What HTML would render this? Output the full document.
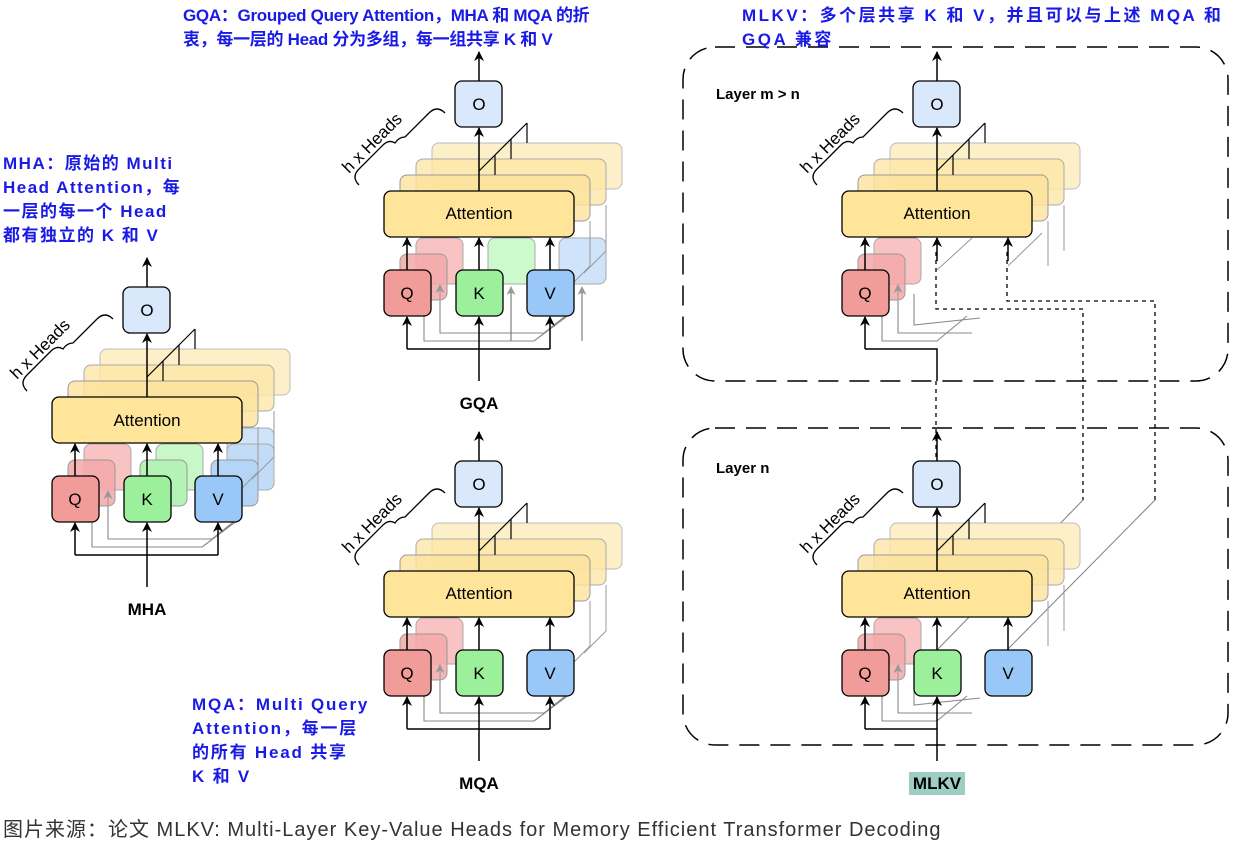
<!DOCTYPE html>
<html><head><meta charset="utf-8"><style>
html,body{margin:0;padding:0;background:#fff;}
body{width:1247px;height:841px;overflow:hidden;position:relative;font-family:"Liberation Sans","Noto Sans CJK SC",sans-serif;}
.note{position:absolute;color:#1a1ae6;font-weight:bold;font-size:17px;line-height:24px;letter-spacing:-0.3px;white-space:nowrap;}
.cap{position:absolute;left:3px;top:813px;font-size:20px;letter-spacing:1px;color:#333;white-space:nowrap;}
svg{position:absolute;left:0;top:0;}
svg text{font-family:"Liberation Sans",sans-serif;}
</style></head><body>
<svg width="1247" height="841" viewBox="0 0 1247 841">
<defs>
<marker id="ar" markerWidth="10" markerHeight="10" refX="9" refY="5" orient="auto" markerUnits="userSpaceOnUse"><path d="M0,0 L10,5 L0,10 L3,5 z" fill="#000"/></marker>
<marker id="ag" markerWidth="9" markerHeight="9" refX="8" refY="4.5" orient="auto" markerUnits="userSpaceOnUse"><path d="M0,0 L9,4.5 L0,9 L2.5,4.5 z" fill="#999"/></marker>
<g id="back">
<rect x="48" y="-48" width="190" height="46" rx="7" fill="#fdf0c8" stroke="#bbb"/>
<rect x="32" y="-32" width="190" height="46" rx="7" fill="#fce7a8" fill-opacity=".8" stroke="#aaa"/>
<rect x="16" y="-16" width="190" height="46" rx="7" fill="#fbe29c" fill-opacity=".8" stroke="#999"/>
</g>
<g id="top">
<rect x="71" y="-110" width="47" height="46" rx="7" fill="#dae8fc" stroke="#000" stroke-width="1.3"/>
<line x1="95" y1="0" x2="95" y2="-63" stroke="#000" stroke-width="1.5" marker-end="url(#ar)"/>
<line x1="95" y1="-110" x2="95" y2="-139" stroke="#000" stroke-width="1.5" marker-end="url(#ar)"/>
<path d="M95,-20 L143,-68 M111,-16 L111,-36 M127,-32 L127,-52 M143,-48 L143,-68" stroke="#000" stroke-width="1.2" fill="none"/>
<path d="M-25,-6 q-8,-8 0,-16 l24,-24 q6,-6 12,-2 q4,-6 10,-6 l24,-24 q8,-8 16,0" stroke="#000" stroke-width="1.3" fill="none"/>
<text x="-8" y="-44" font-size="17" transform="rotate(-45 -8 -44)" text-anchor="middle">h x Heads</text>
</g>
<g id="attn">
<rect x="0" y="0" width="190" height="46" rx="7" fill="#ffe599" stroke="#000" stroke-width="1.3"/>
</g>
<g id="qback">
<rect x="32" y="47" width="47" height="46" rx="7" fill="#f8b4b4" fill-opacity=".8" stroke="#aaa"/>
<rect x="16" y="63" width="47" height="46" rx="7" fill="#f5a8a8" fill-opacity=".85" stroke="#999"/>
<line x1="40" y1="125" x2="40" y2="110" stroke="#999" marker-end="url(#ag)"/>
<line x1="56" y1="125" x2="56" y2="94" stroke="#999" marker-end="url(#ag)"/>
</g>
<g id="gray">
<path d="M40,125 L40,150 L150,150 M56,110 L56,142 L160,142 M150,150 L190,120 M160,142 L190,118" stroke="#888" stroke-width="1.1" fill="none"/>
<path d="M206,30 L206,75 M222,14 L222,60 M206,75 L186,95 M222,60 L200,82" stroke="#999" fill="none"/>
</g>
<g id="qkv">
<line x1="23" y1="79" x2="23" y2="47" stroke="#000" stroke-width="1.5" marker-end="url(#ar)"/>
<line x1="95" y1="79" x2="95" y2="47" stroke="#000" stroke-width="1.5" marker-end="url(#ar)"/>
<line x1="166" y1="79" x2="166" y2="47" stroke="#000" stroke-width="1.5" marker-end="url(#ar)"/>
<rect x="0" y="79" width="47" height="46" rx="7" fill="#f19c99" stroke="#000" stroke-width="1.3"/>
<rect x="72" y="79" width="47" height="46" rx="7" fill="#9cf09c" stroke="#000" stroke-width="1.3"/>
<rect x="143" y="79" width="47" height="46" rx="7" fill="#99c8f8" stroke="#000" stroke-width="1.3"/>
<path d="M95,190 L95,158 M23,158 L166,158" stroke="#000" stroke-width="1.5" fill="none"/>
<line x1="23" y1="158" x2="23" y2="126" stroke="#000" stroke-width="1.5" marker-end="url(#ar)"/>
<line x1="95" y1="158" x2="95" y2="126" stroke="#000" stroke-width="1.5" marker-end="url(#ar)"/>
<line x1="166" y1="158" x2="166" y2="126" stroke="#000" stroke-width="1.5" marker-end="url(#ar)"/>
</g>
</defs>

<!-- MHA -->
<g transform="translate(52,397)">
<use href="#back"/>
<rect x="104" y="47" width="47" height="46" rx="7" fill="#c8f7c8" stroke="#aaa"/><rect x="88" y="63" width="47" height="46" rx="7" fill="#b5f2b5" stroke="#999"/>
<rect x="175" y="31" width="47" height="46" rx="7" fill="#cfe4fb" stroke="#aaa"/><rect x="175" y="47" width="47" height="46" rx="7" fill="#c2dcf8" stroke="#aaa"/><rect x="159" y="63" width="47" height="46" rx="7" fill="#b5d5f7" stroke="#999"/>
<use href="#qback"/>
<use href="#gray"/>
<use href="#attn"/><use href="#top"/><use href="#qkv"/>
<text x="95" y="29" font-size="17" text-anchor="middle">Attention</text>
<text x="95" y="-81" font-size="17" text-anchor="middle">O</text>
<text x="23" y="108" font-size="17" text-anchor="middle">Q</text>
<text x="95" y="108" font-size="17" text-anchor="middle">K</text>
<text x="166" y="108" font-size="17" text-anchor="middle">V</text>
<text x="95" y="218" font-size="17" font-weight="bold" text-anchor="middle">MHA</text>
</g>

<!-- GQA -->
<g transform="translate(384,191)">
<use href="#back"/>
<rect x="104" y="47" width="47" height="46" rx="7" fill="#cdfacd" stroke="#aaa"/>
<rect x="175" y="47" width="47" height="46" rx="7" fill="#cfe4fb" stroke="#aaa"/>
<use href="#qback"/>
<use href="#gray"/>
<line x1="127" y1="150" x2="127" y2="96" stroke="#666" marker-end="url(#ag)"/>
<line x1="198" y1="150" x2="198" y2="96" stroke="#666" marker-end="url(#ag)"/>
<use href="#attn"/><use href="#top"/><use href="#qkv"/>
<text x="95" y="28" font-size="17" text-anchor="middle">Attention</text>
<text x="95" y="-81" font-size="17" text-anchor="middle">O</text>
<text x="23" y="108" font-size="17" text-anchor="middle">Q</text>
<text x="95" y="108" font-size="17" text-anchor="middle">K</text>
<text x="166" y="108" font-size="17" text-anchor="middle">V</text>
<text x="95" y="218" font-size="17" font-weight="bold" text-anchor="middle">GQA</text>
</g>

<!-- MQA -->
<g transform="translate(384,571)">
<use href="#back"/>
<use href="#qback"/>
<use href="#gray"/>
<use href="#attn"/><use href="#top"/><use href="#qkv"/>
<text x="95" y="28" font-size="17" text-anchor="middle">Attention</text>
<text x="95" y="-81" font-size="17" text-anchor="middle">O</text>
<text x="23" y="108" font-size="17" text-anchor="middle">Q</text>
<text x="95" y="108" font-size="17" text-anchor="middle">K</text>
<text x="166" y="108" font-size="17" text-anchor="middle">V</text>
<text x="95" y="218" font-size="17" font-weight="bold" text-anchor="middle">MQA</text>
</g>

<!-- MLKV layer boxes -->
<rect x="683" y="47" width="545" height="334" rx="32" fill="none" stroke="#000" stroke-width="1.5" stroke-dasharray="20 11"/>
<rect x="683" y="428" width="545" height="317" rx="32" fill="none" stroke="#000" stroke-width="1.5" stroke-dasharray="20 11"/>
<text x="716" y="99" font-size="15" font-weight="bold">Layer m &gt; n</text>
<text x="716" y="473" font-size="15" font-weight="bold">Layer n</text>

<!-- MLKV top -->
<g transform="translate(842,191)">
<use href="#back"/>
<use href="#qback"/>
<path d="M40,125 L40,150 L95,150 L125,125 M56,110 L56,142 L130,142 M72,103 L72,134 L138,127" stroke="#888" stroke-width="1.1" fill="none"/>
<path d="M206,30 L206,75 M222,14 L222,60 M95,79 L130,47 M166,75 L200,42" stroke="#999" fill="none"/>
<use href="#attn"/><use href="#top"/>
<line x1="23" y1="79" x2="23" y2="47" stroke="#000" stroke-width="1.5" marker-end="url(#ar)"/>
<line x1="95" y1="70" x2="95" y2="47" stroke="#000" stroke-width="1.5" marker-end="url(#ar)"/>
<line x1="166" y1="70" x2="166" y2="47" stroke="#000" stroke-width="1.5" marker-end="url(#ar)"/>
<rect x="0" y="79" width="47" height="46" rx="7" fill="#f19c99" stroke="#000" stroke-width="1.3"/>
<path d="M95,190 L95,158 L23,158" stroke="#000" stroke-width="1.5" fill="none"/>
<line x1="23" y1="158" x2="23" y2="126" stroke="#000" stroke-width="1.5" marker-end="url(#ar)"/>
<text x="95" y="28" font-size="17" text-anchor="middle">Attention</text>
<text x="95" y="-81" font-size="17" text-anchor="middle">O</text>
<text x="23" y="108" font-size="17" text-anchor="middle">Q</text>
</g>
<!-- dashed connectors -->
<path d="M936,381 L936,460 M936,252 L936,309 L1083,309 L1083,500 M1007,252 L1007,301 L1155,301 L1155,500" stroke="#000" stroke-width="1.3" stroke-dasharray="4 4" fill="none"/>
<path d="M1083,500 L937,650 M1155,500 L1007,650" stroke="#888" stroke-width="1.1" fill="none"/>

<!-- MLKV bottom -->
<g transform="translate(842,571)">
<use href="#back"/>
<use href="#qback"/>
<path d="M40,125 L40,150 L95,150 L125,125 M56,110 L56,142 L130,142 M72,103 L72,134 L138,127" stroke="#888" stroke-width="1.1" fill="none"/>
<path d="M206,30 L206,75 M222,14 L222,60" stroke="#999" fill="none"/>
<use href="#attn"/><use href="#top"/>
<line x1="23" y1="79" x2="23" y2="47" stroke="#000" stroke-width="1.5" marker-end="url(#ar)"/>
<line x1="95" y1="79" x2="95" y2="47" stroke="#000" stroke-width="1.5" marker-end="url(#ar)"/>
<line x1="166" y1="79" x2="166" y2="47" stroke="#000" stroke-width="1.5" marker-end="url(#ar)"/>
<rect x="0" y="79" width="47" height="46" rx="7" fill="#f19c99" stroke="#000" stroke-width="1.3"/>
<rect x="72" y="79" width="47" height="46" rx="7" fill="#9cf09c" stroke="#000" stroke-width="1.3"/>
<rect x="143" y="79" width="47" height="46" rx="7" fill="#99c8f8" stroke="#000" stroke-width="1.3"/>
<path d="M95,190 L95,158 L23,158" stroke="#000" stroke-width="1.5" fill="none"/>
<line x1="23" y1="158" x2="23" y2="126" stroke="#000" stroke-width="1.5" marker-end="url(#ar)"/>
<line x1="95" y1="158" x2="95" y2="126" stroke="#000" stroke-width="1.5" marker-end="url(#ar)"/>
<text x="95" y="28" font-size="17" text-anchor="middle">Attention</text>
<text x="95" y="-81" font-size="17" text-anchor="middle">O</text>
<text x="23" y="108" font-size="17" text-anchor="middle">Q</text>
<text x="95" y="108" font-size="17" text-anchor="middle">K</text>
<text x="166" y="108" font-size="17" text-anchor="middle">V</text>
<rect x="67" y="201" width="56" height="23" fill="#9ecdc2"/>
<text x="95" y="218" font-size="17" font-weight="bold" text-anchor="middle">MLKV</text>
</g>
</svg>

<div class="note" style="left:3px;top:152px;letter-spacing:1.5px;">MHA：原始的 Multi<br>Head Attention，每<br>一层的每一个 Head<br>都有独立的 K 和 V</div>
<div class="note" style="left:183px;top:4px;">GQA：Grouped Query Attention，MHA 和 MQA 的折<br>衷，每一层的 Head 分为多组，每一组共享 K 和 V</div>
<div class="note" style="left:742px;top:4px;letter-spacing:2.5px;">MLKV：多个层共享 K 和 V，并且可以与上述 MQA 和<br>GQA 兼容</div>
<div class="note" style="left:192px;top:693px;letter-spacing:1.8px;">MQA：Multi Query<br>Attention，每一层<br>的所有 Head 共享<br>K 和 V</div>
<div class="cap">图片来源：论文 MLKV: Multi-Layer Key-Value Heads for Memory Efficient Transformer Decoding</div>
</body></html>
